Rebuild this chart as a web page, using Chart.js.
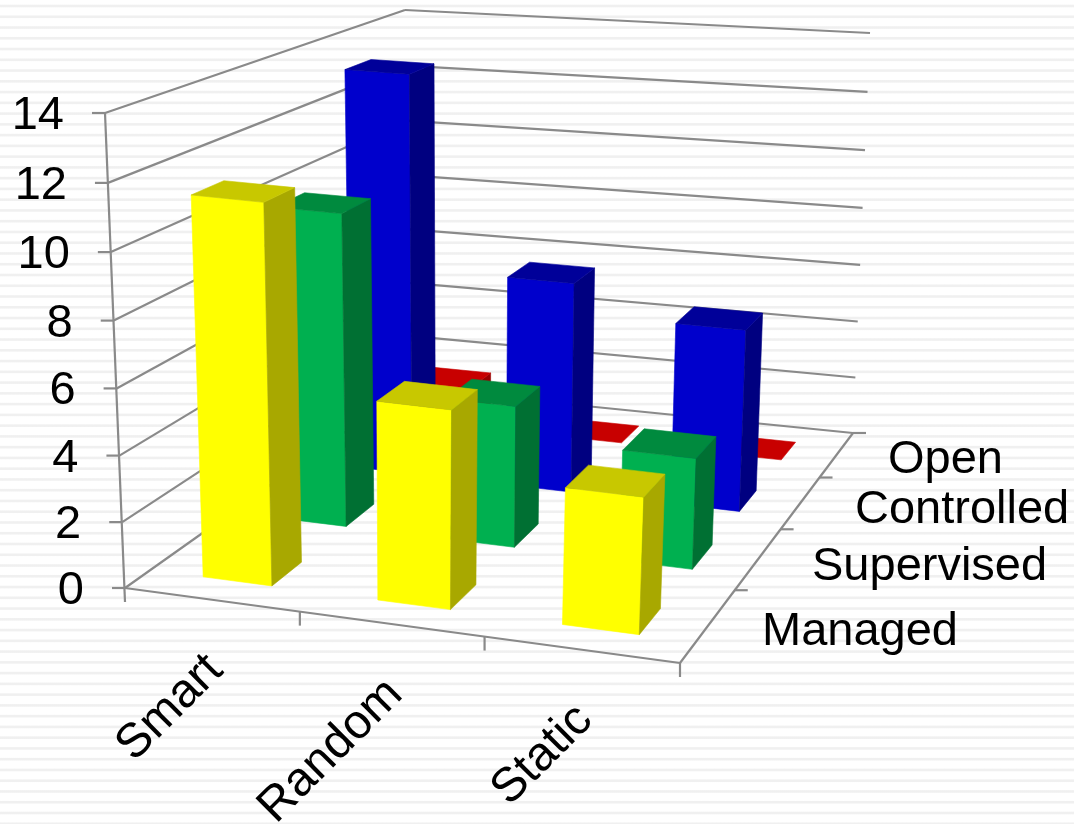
<!DOCTYPE html>
<html><head><meta charset="utf-8">
<script src="https://cdn.jsdelivr.net/npm/chart.js@4"></script>
<style>
html,body{margin:0;padding:0;background:#fff}
body{width:1074px;height:824px;overflow:hidden;background:repeating-linear-gradient(180deg,#fff 0,#fff 4.2px,#f0f0f0 5.2px,#f0f0f0 6.8px,#fff 7.8px,#fff 10.76px)}
canvas{display:block}
</style></head><body>
<canvas id="c" width="1074" height="824"></canvas>
<script>
const categories=['Smart','Random','Static'];
const depthLabels=['Managed','Supervised','Controlled','Open'];
const managed=[11.5,6,4.1];
const supervised=[10,4.5,3.5];
const controlled=[13.4,7,6];
const open=[1.4,0,0];
const yTicks=[0,2,4,6,8,10,12,14];
const faceColors=[['#FFFF00','#C8C800','#A8A800'],['#00B050','#008A3E','#007033'],['#0000CC','#000099','#000080'],['#FF0000','#C80000','#990000']];
const seriesValues=[managed,supervised,controlled,open];

// frame of the 3D box as seen on the page
const frame={flb:[125,588],flt:[105,113],frb:[680,663],frt:[700,172],blb:[407,388],blt:[405,10],brb:[853,433],brt:[870,33]};
const U_R=1.087,W_R=0.72,V_R=1.035,U_SHIFT=0.004;
const DEPTH_RATIOS=[0.36,0.40,0.40,0.40],DEPTH_SHIFTS=[-0.013,-0.02,-0.02,-0.008];
const persp=(t,r)=>t/(t+(1-t)*r);
const lerp=(a,b,t)=>[a[0]+(b[0]-a[0])*t,a[1]+(b[1]-a[1])*t];
function project(u,v,w){
  const up=persp(u,U_R),wp=persp(w,W_R),f=frame;
  const b=lerp(lerp(f.flb,f.frb,up),lerp(f.blb,f.brb,up),wp);
  const t=lerp(lerp(f.flt,f.frt,up),lerp(f.blt,f.brt,up),wp);
  return lerp(b,t,persp(v,V_R));
}
function poly(ctx,pts,color){
  ctx.beginPath();pts.forEach((p,i)=>i?ctx.lineTo(p[0],p[1]):ctx.moveTo(p[0],p[1]));ctx.closePath();
  ctx.fillStyle=color;ctx.strokeStyle=color;ctx.lineWidth=.6;ctx.fill();ctx.stroke();
}
class Bar3D extends Chart.BarController{
  draw(){
    const chart=this.chart,ctx=chart.ctx,a=chart.chartArea,meta=this._cachedMeta;
    const W=a.right-a.left,H=a.bottom-a.top,c=faceColors[this.index];
    const slot=1/depthLabels.length,sh=DEPTH_SHIFTS[this.index],dr=DEPTH_RATIOS[this.index];
    const w0=(this.index+.5-dr/2)*slot+sh,w1=(this.index+.5+dr/2)*slot+sh;
    meta.data.forEach(bar=>{
      const u0=(bar.x-bar.width/2-a.left)/W+U_SHIFT,u1=(bar.x+bar.width/2-a.left)/W+U_SHIFT,v=(a.bottom-bar.y)/H;
      const P=(u,vv,w)=>project(u,vv,w);
      if(v>0){
        poly(ctx,[P(u0,0,w0),P(u1,0,w0),P(u1,v,w0),P(u0,v,w0)],c[0]);
        poly(ctx,[P(u1,0,w0),P(u1,0,w1),P(u1,v,w1),P(u1,v,w0)],c[2]);
      }
      poly(ctx,[P(u0,v,w0),P(u1,v,w0),P(u1,v,w1),P(u0,v,w1)],c[1]);
    });
  }
}
Bar3D.id='bar3d';
Bar3D.defaults=Chart.BarController.defaults;
Chart.register(Bar3D);

const line=(ctx,a,b)=>{ctx.beginPath();ctx.moveTo(a[0],a[1]);ctx.lineTo(b[0],b[1]);ctx.stroke();};
const framePlugin={id:'frame3d',
  beforeDatasetsDraw(chart){
    const ctx=chart.ctx,ys=chart.scales.y,a=chart.chartArea,H=a.bottom-a.top;
    ctx.save();ctx.strokeStyle='#8a8a8a';ctx.lineWidth=2.2;ctx.lineCap='butt';
    ys.ticks.forEach(t=>{
      const v=(a.bottom-ys.getPixelForValue(t.value))/H;
      const p0=project(0,v,0),p1=project(0,v,1),p2=project(1,v,1);
      line(ctx,[p0[0]-13,p0[1]],p0);line(ctx,p0,p1);line(ctx,p1,p2);
    });
    line(ctx,project(0,1,0),[frame.flb[0],frame.flb[1]+14]);
    line(ctx,project(0,0,0),project(1,0,0));
    line(ctx,project(1,0,0),project(1,0,1));
    categories.forEach((_,i)=>{const p=project((i+1)/categories.length,0,0);line(ctx,p,[p[0],p[1]+14]);});
    depthLabels.forEach((_,i)=>{const p=project(1,0,(i+1)/depthLabels.length);line(ctx,p,[p[0]+13,p[1]]);});
    ctx.restore();
  },
  afterDraw(chart){
    const ctx=chart.ctx,ys=chart.scales.y,xs=chart.scales.x,a=chart.chartArea,H=a.bottom-a.top;
    ctx.save();ctx.fillStyle='#000';ctx.font='47px "Liberation Sans"';
    ctx.textAlign='right';ctx.textBaseline='middle';
    ys.ticks.forEach(t=>{
      const v=(a.bottom-ys.getPixelForValue(t.value))/H,p=project(0,v,0);
      ctx.fillText(String(t.value),p[0]-41,p[1]+3);
    });
    ctx.textAlign='left';
    const depthAnchors=[[762,632],[812,567],[855,510],[888,460]];
    depthLabels.forEach((s,i)=>ctx.fillText(s,depthAnchors[i][0],depthAnchors[i][1]));
    ctx.font='48px "Liberation Sans"';
    xs.ticks.forEach((t,i)=>{
      const u=(xs.getPixelForTick(i)-a.left)/(a.right-a.left),p=project(u,0,0);
      ctx.save();ctx.translate(p[0]+4,p[1]+63);ctx.rotate(-Math.PI/4);ctx.textAlign='right';
      ctx.fillText(categories[i],0,0);ctx.restore();
    });
    ctx.restore();
  }
};
new Chart(document.getElementById('c'),{
  type:'bar3d',
  data:{labels:categories,datasets:depthLabels.map((d,i)=>({label:d,data:seriesValues[i],grouped:false,barPercentage:.4,categoryPercentage:1,clip:false}))},
  options:{responsive:false,animation:false,
    layout:{padding:{left:125,right:394,top:113,bottom:236}},
    plugins:{legend:{display:false},tooltip:{enabled:false}},
    scales:{
      x:{type:'category',display:false,offset:true,grid:{display:false}},
      y:{type:'linear',display:false,min:0,max:14,ticks:{stepSize:2},afterBuildTicks(s){s.ticks=yTicks.map(v=>({value:v}));}}
    }},
  plugins:[framePlugin]
});
</script>
</body></html>
